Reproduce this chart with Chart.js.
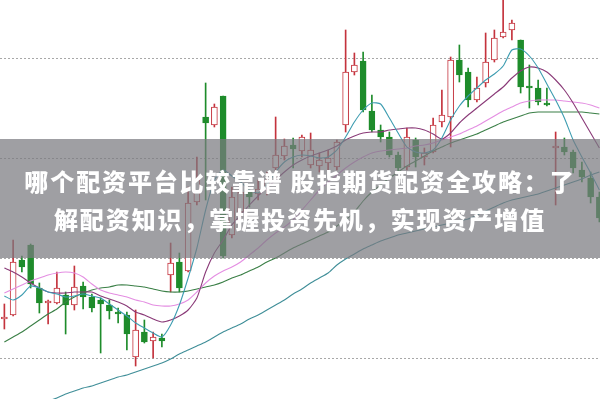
<!DOCTYPE html>
<html>
<head>
<meta charset="utf-8">
<script src="https://cdn.jsdelivr.net/npm/chart.js@4.4.1/dist/chart.umd.min.js"></script>
<style>
    html, body { margin: 0; padding: 0; background: #fff; }
    #wrap { position: relative; width: 600px; height: 399px; overflow: hidden; }
    #band { position: absolute; left: 0; top: 139px; width: 600px; height: 119px; background: rgba(122, 122, 128, 0.72); }
    .title { position: absolute; left: 0; width: 600px; text-align: center; color: #fff;
             font: 900 24px "Noto Sans CJK SC", sans-serif; letter-spacing: 1.9px; line-height: 38px; white-space: nowrap; }
</style>
</head>
<body>
<div id="wrap">
    <canvas id="kline" width="600" height="399"></canvas>
    <div id="band"></div>
    <div class="title" style="top:162px">哪个配资平台比较靠谱 股指期货配资全攻略：了</div>
    <div class="title" style="top:200px">解配资知识，掌握投资先机，实现资产增值</div>
</div>
<script>
// --- datos de velas ---
const opens = [10.39,10.43,10.98,11.13,10.70,10.55,10.55,10.63,10.53,10.72,
    10.61,10.58,10.53,10.46,10.43,10.01,10.26,10.17,10.20,10.83,
    10.96,10.87,11.56,12.41,12.33,12.62,11.23,11.46,11.66,11.64,
    11.68,11.90,12.02,12.13,12.07,11.93,11.92,11.95,11.91,12.33,
    12.86,12.97,12.47,12.28,12.21,12.03,11.91,12.18,12.01,12.06,
    12.36,12.41,12.98,12.86,12.58,12.75,12.98,13.21,13.28,13.18,
    12.72,12.70,12.55,12.10,12.11,12.06,11.88,11.80,11.61];
const closes = [10.41,10.96,10.91,10.74,10.55,10.57,10.70,10.53,10.71,10.61,
    10.50,10.54,10.47,10.44,10.24,10.28,10.16,10.21,10.17,10.95,
    10.70,11.55,11.78,12.35,12.51,11.02,11.61,11.66,11.61,11.69,
    11.78,12.03,12.12,12.09,12.21,12.08,11.98,12.00,12.16,12.86,
    12.93,12.48,12.28,12.21,12.03,11.90,12.21,12.01,12.05,12.33,
    12.43,12.98,12.83,12.58,12.70,12.96,13.20,13.26,13.35,12.71,
    12.70,12.56,12.53,12.12,12.06,11.90,11.81,11.61,11.40];
const highs = [10.54,11.18,11.02,11.14,10.75,10.58,10.86,10.66,10.92,10.76,
    10.64,10.60,10.58,10.50,10.46,10.48,10.38,10.26,10.24,11.15,
    11.05,11.71,12.01,12.75,12.54,12.62,11.71,11.73,11.70,11.78,
    11.86,12.41,12.19,12.20,12.23,12.25,12.05,12.08,12.18,13.28,
    13.05,13.06,12.63,12.33,12.26,12.06,12.30,12.20,12.10,12.40,
    12.68,13.01,13.13,12.90,12.81,13.25,13.28,13.63,13.38,13.18,
    12.93,12.78,12.70,12.26,12.20,12.08,11.96,11.86,11.66];
const lows = [10.29,10.42,10.86,10.70,10.45,10.34,10.54,10.24,10.48,10.49,
    10.46,10.05,10.39,10.35,10.08,9.92,10.15,10.00,10.11,10.66,
    10.66,10.86,11.53,11.58,12.31,11.00,11.20,11.41,11.51,11.58,
    11.63,11.80,11.98,11.90,12.01,11.90,11.86,11.86,11.88,12.26,
    12.83,12.46,12.26,12.16,12.01,11.86,11.88,11.91,11.93,12.05,
    12.31,12.11,12.76,12.51,12.56,12.71,12.96,13.20,13.18,12.65,
    12.50,12.53,12.52,11.53,12.03,11.85,11.76,11.55,11.36];

// --- medias móviles ---
const ma5 = [10.62,10.58,10.63,10.72,10.70,10.66,10.64,10.61,10.62,10.64,
    10.62,10.60,10.54,10.48,10.42,10.35,10.30,10.25,10.21,10.33,
    10.53,10.80,11.10,11.48,11.78,11.88,11.82,11.76,11.68,11.65,
    11.73,11.86,11.96,12.01,12.03,12.02,12.00,12.01,12.08,12.21,
    12.36,12.48,12.55,12.54,12.40,12.25,12.11,12.06,12.05,12.08,
    12.20,12.38,12.52,12.62,12.70,12.78,12.84,12.92,13.08,13.09,
    13.02,12.90,12.74,12.58,12.40,12.18,12.01,11.85,11.68];
const ma10 = [10.90,10.86,10.81,10.75,10.70,10.66,10.65,10.65,10.66,10.66,
    10.66,10.62,10.59,10.56,10.52,10.46,10.43,10.39,10.36,10.38,
    10.42,10.48,10.60,10.86,11.05,11.18,11.33,11.43,11.53,11.62,
    11.70,11.78,11.86,11.93,11.98,12.02,12.05,12.08,12.12,12.18,
    12.22,12.25,12.26,12.26,12.28,12.29,12.30,12.30,12.28,12.24,
    12.19,12.25,12.35,12.43,12.50,12.57,12.64,12.71,12.80,12.87,
    12.91,12.90,12.86,12.78,12.68,12.55,12.40,12.25,12.10];
const ma20 = [10.65,10.69,10.73,10.77,10.80,10.83,10.85,10.86,10.85,10.81,
    10.74,10.68,10.65,10.63,10.61,10.58,10.56,10.53,10.52,10.52,
    10.54,10.58,10.66,10.75,10.82,10.87,10.91,10.96,11.03,11.10,
    11.18,11.25,11.31,11.38,11.48,11.58,11.68,11.76,11.83,11.90,
    11.96,12.01,12.05,12.07,12.08,12.09,12.10,12.12,12.13,12.15,
    12.18,12.21,12.24,12.28,12.32,12.37,12.42,12.47,12.51,12.55,
    12.57,12.58,12.58,12.58,12.57,12.56,12.55,12.53,12.50];
const ma30 = [10.16,10.21,10.26,10.32,10.38,10.44,10.49,10.56,10.61,10.65,
    10.68,10.70,10.71,10.73,10.73,10.72,10.71,10.69,10.67,10.66,
    10.66,10.67,10.69,10.71,10.73,10.76,10.80,10.83,10.87,10.91,
    10.96,11.00,11.05,11.10,11.14,11.18,11.22,11.26,11.32,11.38,
    11.46,11.57,11.66,11.73,11.80,11.86,11.92,11.97,12.02,12.07,
    12.11,12.15,12.18,12.21,12.24,12.28,12.32,12.36,12.39,12.42,
    12.45,12.46,12.46,12.46,12.46,12.46,12.46,12.45,12.44];
const ma60 = [9.38,9.42,9.46,9.50,9.54,9.57,9.60,9.64,9.67,9.70,
    9.72,9.75,9.78,9.81,9.83,9.86,9.89,9.92,9.95,9.99,
    10.04,10.08,10.12,10.16,10.21,10.26,10.30,10.34,10.39,10.43,
    10.48,10.53,10.58,10.64,10.69,10.75,10.80,10.85,10.93,10.99,
    11.04,11.09,11.13,11.17,11.20,11.23,11.25,11.27,11.29,11.31,
    11.33,11.35,11.37,11.39,11.43,11.47,11.51,11.55,11.58,11.60,
    11.62,11.64,11.67,11.70,11.73,11.76,11.79,11.83,11.86];

// líneas de la rejilla punteada
const gridLevels = [10, 11, 12, 13];

const RED = '#c4333d';
const GREEN = '#1e8c2b';

const idx = opens.map((_, i) => i);
const isUp = i => closes[i] >= opens[i];

function maLine(label, values, color) {
    return {
        type: 'line',
        label: label,
        data: idx.map(i => ({ x: i, y: values[i] })),
        borderColor: color,
        borderWidth: 1.1,
        pointRadius: 0,
        tension: 0.2,
        order: 0
    };
}

const ctx = document.getElementById('kline').getContext('2d');
new Chart(ctx, {
    type: 'bar',
    data: {
        datasets: [
            maLine('MA5', ma5, '#3c9cb0'),
            maLine('MA10', ma10, '#8a3a78'),
            maLine('MA20', ma20, '#e48ee2'),
            maLine('MA30', ma30, '#3a7f46'),
            maLine('MA60', ma60, '#3f8e98'),
            {
                type: 'bar',
                label: 'body',
                data: idx.map(i => ({ x: i, y: [opens[i], closes[i]] })),
                backgroundColor: idx.map(i => isUp(i) ? '#ffffff' : GREEN),
                borderColor: idx.map(i => isUp(i) ? RED : GREEN),
                borderWidth: 1,
                borderSkipped: false,
                barThickness: 6,
                grouped: false,
                order: 5
            },
            {
                type: 'bar',
                label: 'wick',
                data: idx.map(i => ({ x: i, y: [lows[i], highs[i]] })),
                backgroundColor: idx.map(i => isUp(i) ? RED : GREEN),
                barThickness: 1,
                grouped: false,
                order: 6
            }
        ]
    },
    options: {
        responsive: false,
        animation: false,
        layout: { padding: 0 },
        plugins: { legend: { display: false }, tooltip: { enabled: false } },
        scales: {
            x: { type: 'linear', min: -0.5, max: 68.07, offset: false, display: false },
            y: {
                min: 9.59,
                max: 13.58,
                beginAtZero: false,
                ticks: { display: false },
                grid: { color: '#a8a8a8', drawTicks: false },
                border: { display: false, dash: [2, 2] },
                afterBuildTicks: scale => {
                    scale.ticks = gridLevels.map(v => ({ value: v }));
                }
            }
        }
    }
});
</script>
</body>
</html>
